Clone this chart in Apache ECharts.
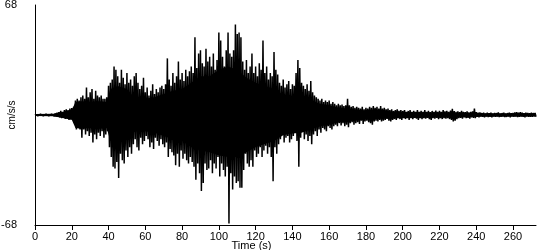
<!DOCTYPE html>
<html><head><meta charset="utf-8">
<script src="https://cdn.jsdelivr.net/npm/echarts@6/dist/echarts.min.js"></script>
<style>html,body{margin:0;padding:0;background:#fff}#c{width:550px;height:250px}</style>
</head><body><div id="c"></div>
<script>
// Sample step (s) between successive peak pairs
var step = 1;
// Positive peaks, one per second from t = 0 s
var peakPos = [
0.6,0.6,0.6,0.6,0.6,0.6,0.6,0.6,0.6,0.6,
0.8,1,1.5,1.8,2.5,2,3,3.5,3,4,
4.3,5,9,10,9,11,12,10,17,11,
14,16,10,15,12,11,12,10,10,11,
18,20,22,30,28,24,20,28,23,19,
26,20,22,18,24,26,20,16,18,23,
14,17,12,15,19,13,16,14,17,18,
16,19,35,22,18,26,20,24,33,22,
26,21,28,24,27,30,26,48,29,38,
40,32,30,41,33,36,30,38,28,34,
51,46,36,30,40,51,38,36,40,56,
50,51,48,33,28,34,26,30,38,26,
30,24,32,28,46,26,30,22,26,24,
39,28,25,20,18,22,17,19,21,16,
19,18,26,34,29,20,18,16,19,15,
21,14,12,11,10,9,10,8,9,8,
9,7,8,7,6,7,6,6.5,5.5,6,
10,6,5,5.5,4.5,5,4.5,4,5,3.5,
4.5,4,5,4.5,5.5,4.5,5,4,5.5,4,
4.5,3.5,4,3,3.5,2.5,3,3.5,2.5,3,
2.5,3,2,2.5,3,2,2.5,2,3,2,
2.5,2,3,2,2.5,1.8,2.5,2,2.8,2,
2.5,2,3,2.2,2.5,2,2.8,3.8,2.5,2,
2.2,1.8,2.5,2,1.8,2.2,1.6,2,2.2,3.9,
1.8,1.5,1.6,1.2,1.5,1,1.4,1.2,1.5,1,
1.3,1.2,1.6,1,1.2,1.4,1,1.2,1.5,1.1,
1.3,1.6,1.8,1.5,1.8,1.4,1.2,1.5,1.3,1.2,
1.4,1.2,1.3
];
// Negative peaks, one per second from t = 0.5 s
var peakNeg = [
-0.6,-0.6,-0.6,-0.6,-0.6,-0.6,-0.6,-0.6,-0.6,-0.6,
-0.8,-1,-1.2,-1.5,-2,-1.8,-2.5,-2.2,-3,-2.8,
-3,-5,-9,-8,-9,-14,-9,-12,-10,-13,
-11,-17,-12,-15,-11,-13,-10,-14,-12,-10,
-20,-26,-32,-33,-29,-39,-24,-28,-30,-22,
-26,-20,-24,-18,-15,-20,-22,-14,-18,-16,
-13,-15,-20,-17,-21,-14,-16,-19,-15,-18,
-20,-17,-26,-21,-23,-25,-31,-24,-32,-22,
-27,-24,-28,-30,-26,-29,-32,-40,-30,-36,
-47,-42,-30,-34,-33,-28,-36,-30,-33,-26,
-38,-30,-34,-38,-32,-67,-36,-46,-38,-42,
-41,-45,-45,-34,-24,-30,-32,-28,-32,-22,
-26,-24,-20,-26,-22,-19,-24,-20,-26,-41,
-20,-24,-18,-15,-12,-17,-14,-13,-17,-15,
-13,-6,-16,-32,-14,-10,-15,-12,-16,-13,
-18,-12,-10,-13,-9,-11,-8,-9,-10,-7,
-8,-9,-7,-6,-7,-5,-6.5,-5,-7,-6,
-7.5,-5,-4.5,-6,-5,-4.5,-5.5,-3.5,-5.5,-4,
-3.5,-4.5,-5,-6,-4,-3.5,-4,-3,-4,-3.5,
-3,-2.5,-3.5,-4,-3,-2.5,-3,-2,-2.5,-3,
-2,-2.5,-2,-3,-2,-2.5,-1.8,-2.2,-3,-2,
-2.5,-2,-2.2,-1.8,-2.5,-3,-2,-2.2,-1.8,-2.5,
-2,-2.5,-2,-2.2,-2,-2.5,-3,-4,-3.5,-2.5,
-2,-1.8,-2.2,-1.5,-2,-1.8,-2.2,-1.5,-1.8,-2,
-1.2,-1.4,-1,-1.2,-1.5,-1,-1.3,-1.1,-1.4,-1,
-1.2,-1,-1.3,-1.1,-1,-1.3,-1.2,-1,-1.4,-1,
-1.2,-1,-1.3,-1.1,-1,-1.2,-1.4,-1,-1.2,-1.1,
-1.2,-1,-1.1
];
// Dense (solid) core of the trace: times (s) and its upper / lower edges
var coreTime = [0,10,20,22,25,30,35,39,41,45,50,53,55,60,65,70,75,80,85,90,95,100,105,110,115,120,125,130,135,140,145,150,155,160,165,170,175,180,190,200,220,240,272.5];
var coreUp   = [0.6,0.7,3,8,8.5,8,8.5,8,16,18,16,12,11,10,11,13,15,16,20,24,24,28,30,28,23,20,18,16,12.5,11.5,11,9,7,6,4.5,4,3.2,2.7,2.2,1.8,1.4,0.9,0.7];
var coreDown = [-0.6,-0.7,-3,-8,-8.5,-8,-8.5,-8,-16,-17,-15,-11,-10,-10,-11,-13,-15,-16,-20,-22,-23,-25,-26,-26,-23,-20,-18,-16,-12.5,-11.5,-11,-9,-7,-6,-4.5,-4,-3.2,-2.7,-2.2,-1.8,-1.4,-0.9,-0.7];

var xTicks = [0,20,40,60,80,100,120,140,160,180,200,220,240,260];
var yTicks = [-68, 68];
var yMin = -68, yMax = 68, xMax = 272.5;

var data = [];
for (var i = 0; i < peakPos.length; i++) {
  data.push([i * step, peakPos[i]]);
  data.push([i * step + step / 2, peakNeg[i]]);
}
var coreUpData = coreTime.map(function (t, k) { return [t, coreUp[k]]; });
var coreDownData = coreTime.map(function (t, k) { return [t, coreDown[k]]; });

var font = 'Liberation Sans, Arial, sans-serif';
var chart = echarts.init(document.getElementById('c'), null, {renderer: 'canvas'});
function coreSeries(d) {
  return {
    type: 'line', data: d, showSymbol: false, symbol: 'none', silent: true, z: 1,
    lineStyle: {width: 0, color: '#000'},
    areaStyle: {color: '#000', opacity: 1, origin: 0}
  };
}
chart.setOption({
  animation: false,
  grid: {left: 35, top: 5, right: 14, bottom: 25, containLabel: false, outerBoundsMode: 'none'},
  xAxis: {
    type: 'value', min: 0, max: xMax,
    name: 'Time (s)', nameLocation: 'middle', nameGap: 15, nameMoveOverlap: false,
    nameTextStyle: {color: '#000', fontSize: 11, fontFamily: font, padding: [0, 68, 0, 0]},
    axisLine: {onZero: false, lineStyle: {color: '#000', width: 1}},
    axisTick: {show: true, length: 5, lineStyle: {color: '#000'}, customValues: xTicks},
    axisLabel: {color: '#000', fontSize: 11, fontFamily: font, margin: 6, customValues: xTicks},
    splitLine: {show: false}
  },
  yAxis: {
    type: 'value', min: yMin, max: yMax,
    name: 'cm/s/s', nameLocation: 'middle', nameGap: 18, nameRotate: 90, nameMoveOverlap: false,
    nameTextStyle: {color: '#000', fontSize: 10, fontFamily: font},
    axisLine: {show: true, onZero: false, lineStyle: {color: '#000', width: 1}},
    axisTick: {show: false},
    axisLabel: {color: '#000', fontSize: 11, fontFamily: font, margin: 18, customValues: yTicks},
    splitLine: {show: false}
  },
  series: [
    coreSeries(coreUpData),
    coreSeries(coreDownData),
    {
      type: 'line', data: data, showSymbol: false, symbol: 'none',
      sampling: null, silent: true, z: 2,
      lineStyle: {color: '#000', width: 1.5},
      areaStyle: {color: '#000', opacity: 1, origin: 0}
    }
  ]
});
</script></body></html>
